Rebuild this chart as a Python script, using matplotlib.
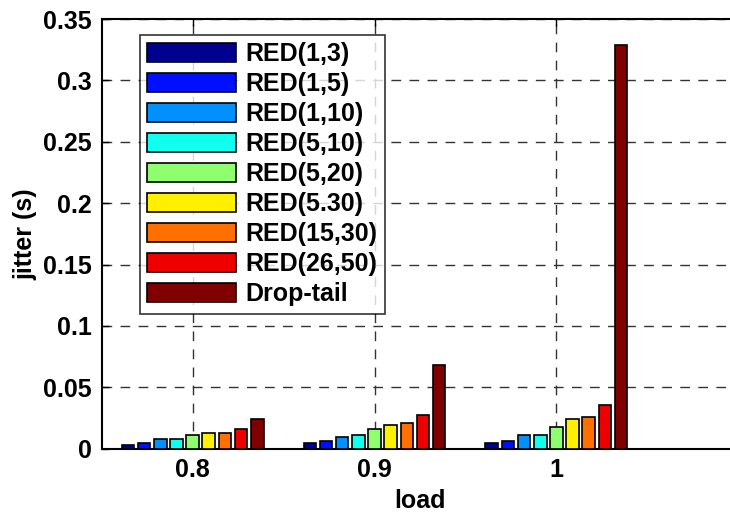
import matplotlib
matplotlib.use("Agg")
import matplotlib.pyplot as plt
import matplotlib.patches as mpatches
from matplotlib.legend_handler import HandlerPatch
import numpy as np

loads = ["0.8", "0.9", "1"]
series = ["RED(1,3)", "RED(1,5)", "RED(1,10)", "RED(5,10)", "RED(5,20)",
          "RED(5.30)", "RED(15,30)", "RED(26,50)", "Drop-tail"]
values = {
    "RED(1,3)":   [0.0030, 0.0046, 0.0049],
    "RED(1,5)":   [0.0049, 0.0065, 0.0063],
    "RED(1,10)":  [0.0079, 0.0095, 0.0112],
    "RED(5,10)":  [0.0078, 0.0112, 0.0112],
    "RED(5,20)":  [0.0112, 0.0160, 0.0174],
    "RED(5.30)":  [0.0128, 0.0190, 0.0242],
    "RED(15,30)": [0.0128, 0.0212, 0.0256],
    "RED(26,50)": [0.0160, 0.0274, 0.0356],
    "Drop-tail":  [0.0242, 0.0682, 0.3290],
}
colors = ["#00008F", "#0010FF", "#0090FF", "#10FFEF", "#8FFF70",
          "#FFEF00", "#FF7000", "#EF0000", "#800000"]

plt.rcParams['font.family'] = ['Liberation Sans', 'DejaVu Sans']
plt.rcParams['font.weight'] = 'bold'

fig = plt.figure(figsize=(7.3, 5.17), dpi=100)
ax = fig.add_axes([0.1393, 0.1321, 0.872, 0.8311])

x = np.arange(1, len(loads) + 1)
n = len(series)
step = 0.8 / n
width = step * 0.78
bars = []
for i, (s, c) in enumerate(zip(series, colors)):
    off = (i - (n - 1) / 2) * step
    b = ax.bar(x + off, values[s], width=width, color=c, edgecolor='black',
               linewidth=1.2, label=s, zorder=3)
    bars.append(b)

ax.set_xlim(0.5, 4.0)
ax.set_ylim(0, 0.35)
ax.set_xticks(x)
ax.set_xticklabels(loads)
ax.set_yticks(np.arange(0, 0.351, 0.05))
ax.set_yticklabels(["0", "0.05", "0.1", "0.15", "0.2", "0.25", "0.3", "0.35"])
ax.tick_params(direction='in', top=True, right=True, labelsize=18, length=5,
               width=1, pad=7)
for lab in ax.get_xticklabels() + ax.get_yticklabels():
    lab.set_fontweight('bold')
ax.grid(True, linestyle=(0, (7, 6)), color='#333333', linewidth=1, zorder=0)
ax.set_axisbelow(True)
for sp in ax.spines.values():
    sp.set_linewidth(1.5)

ax.set_xlabel("load", fontsize=18, fontweight='bold', labelpad=5)
ax.set_ylabel("jitter (s)", fontsize=18, fontweight='bold', labelpad=4)

SHIFT = 9  # px


def make_rect(legend, orig_handle, xdescent, ydescent, width, height, fontsize):
    return mpatches.Rectangle((-xdescent + SHIFT, -ydescent - 1),
                              width - SHIFT, height + 2)


leg = ax.legend(loc='upper left', bbox_to_anchor=(0.0595, 0.963),
                fontsize=18, frameon=True, fancybox=False, edgecolor='black',
                handlelength=3.55, handleheight=0.8, labelspacing=0.24,
                borderpad=0.3, handletextpad=0.4, borderaxespad=0,
                handler_map={mpatches.Rectangle: HandlerPatch(patch_func=make_rect)})
leg.get_frame().set_linewidth(1.2)
for t in leg.get_texts():
    t.set_fontweight('bold')
for h in leg.legend_handles:
    h.set_linewidth(1.2)

fig.savefig("out.png", dpi=100)
